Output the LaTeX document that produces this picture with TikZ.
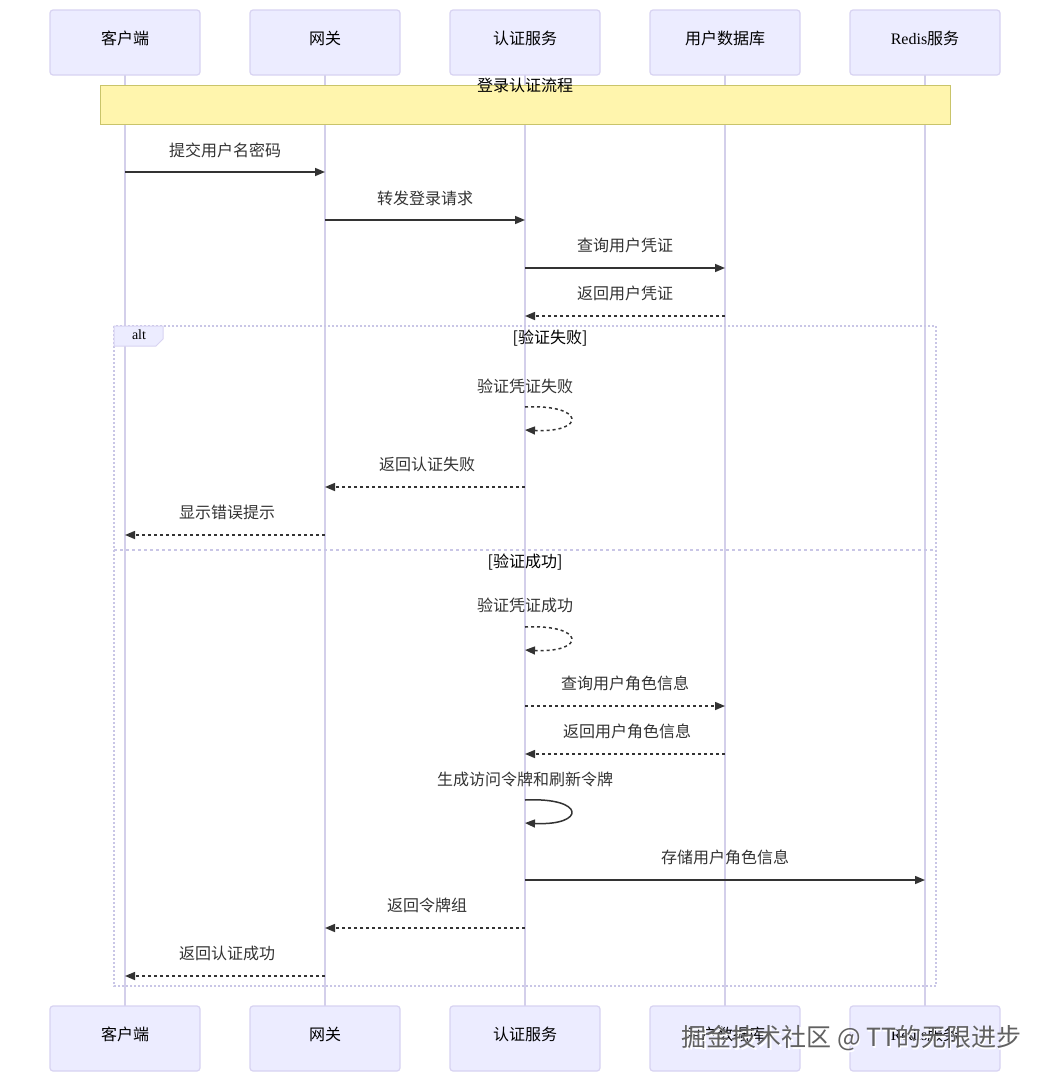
\documentclass[tikz,border=0pt]{standalone}
\usepackage{fontspec}
\setmainfont{Liberation Serif}
\newfontfamily\cjk{Noto Sans CJK SC}
\usetikzlibrary{arrows.meta}
\definecolor{actfill}{HTML}{ECECFF}
\definecolor{actdraw}{HTML}{D8D3F2}
\definecolor{lifec}{HTML}{D3CFEA}
\definecolor{notefill}{HTML}{FFF5AD}
\definecolor{notedraw}{HTML}{C9C46A}
\definecolor{boxdraw}{HTML}{C9C6E6}
\definecolor{msgc}{HTML}{333333}
\tikzset{
  actor/.style={draw=actdraw, fill=actfill, line width=1.2pt, rounded corners=3pt,
    minimum width=150pt, minimum height=65pt, inner sep=0pt,
    text height=14pt, text depth=11pt,
    font=\fontsize{16}{19}\selectfont\cjk, text=black},
  life/.style={draw=lifec, line width=1.5pt},
  msg/.style={draw=msgc, line width=1.5pt, -{Triangle[length=10pt,width=8pt]}},
  dsh/.style={dash pattern=on 3pt off 3pt},
  lbl/.style={font=\fontsize{16}{19}\selectfont\cjk, text=msgc, inner sep=0pt},
  glbl/.style={font=\fontsize{16}{19}\selectfont\cjk, text=black, inner sep=0pt},
}
\begin{document}
\begin{tikzpicture}[x=1pt,y=-1pt]
\fill[white] (0,0) rectangle (1050,1082);
\useasboundingbox (0,0) rectangle (1050,1082);
% lifelines first
\foreach \x in {125,325,525,725,925} {\draw[life] (\x,75) -- (\x,1006);}
% participants
\node[actor] (a1) at (125,42.5) {客户端};
\node[actor] (a2) at (325,42.5) {网关};
\node[actor] (a3) at (525,42.5) {认证服务};
\node[actor] (a4) at (725,42.5) {用户数据库};
\node[actor] (a5) at (925,42.5) {{\rmfamily Redis}服务};
\node[actor] (b1) at (125,1038.5) {客户端};
\node[actor] (b2) at (325,1038.5) {网关};
\node[actor] (b3) at (525,1038.5) {认证服务};
\node[actor] (b4) at (725,1038.5) {用户数据库};
\node[actor] (b5) at (925,1038.5) {{\rmfamily Redis}服务};
% note
\node[draw=notedraw, fill=notefill, line width=1pt, minimum width=850pt, minimum height=39pt, inner sep=0pt] (note) at (525,104.5) {};
\node[glbl] (notet) at (525,85) {登录认证流程};
% messages
\node[lbl] (l1) at (225,150) {提交用户名密码};
\draw[msg] (a1 |- 0,172) -- (a2 |- 0,172);
\node[lbl] (l2) at (425,198) {转发登录请求};
\draw[msg] (a2 |- 0,220) -- (a3 |- 0,220);
\node[lbl] (l3) at (625,245.5) {查询用户凭证};
\draw[msg] (a3 |- 0,268) -- (a4 |- 0,268);
\node[lbl] (l4) at (625,293.5) {返回用户凭证};
\draw[msg,dsh] (a4 |- 0,316) -- (a3 |- 0,316);
% alt box
\draw[boxdraw, line width=1.2pt, dash pattern=on 2pt off 2pt] (114,326) rectangle (936,986);
\draw[boxdraw, line width=1.2pt, dash pattern=on 3pt off 3pt] (114,550) -- (936,550);
\filldraw[fill=actfill, draw=actdraw, line width=1pt] (114,326) -- (163,326) -- (163,339) -- (156,346) -- (114,346) -- cycle;
\node[font=\fontsize{14}{16}\selectfont, inner sep=0pt] (alt) at (139,335) {alt};
\node[glbl] (g1) at (550,338) {[验证失败]};
\node[lbl] (l5) at (525,386.5) {验证凭证失败};
\draw[msg,dsh] (a3 |- 0,407) .. controls (586,404) and (586,433) .. (a3 |- 0,430);
\node[lbl] (l6) at (427,464.5) {返回认证失败};
\draw[msg,dsh] (a3 |- 0,487) -- (a2 |- 0,487);
\node[lbl] (l7) at (227,512.5) {显示错误提示};
\draw[msg,dsh] (a2 |- 0,535) -- (a1 |- 0,535);
\node[glbl] (g2) at (525,562) {[验证成功]};
\node[lbl] (l8) at (525,605.5) {验证凭证成功};
\draw[msg,dsh] (a3 |- 0,627) .. controls (586,624) and (586,653) .. (a3 |- 0,650);
\node[lbl] (l9) at (625,683.5) {查询用户角色信息};
\draw[msg,dsh] (a3 |- 0,706) -- (a4 |- 0,706);
\node[lbl] (l10) at (627,731.5) {返回用户角色信息};
\draw[msg,dsh] (a4 |- 0,754) -- (a3 |- 0,754);
\node[lbl] (l11) at (525,779.5) {生成访问令牌和刷新令牌};
\draw[msg] (a3 |- 0,800) .. controls (586,797) and (586,826) .. (a3 |- 0,823);
\node[lbl] (l12) at (725,857.5) {存储用户角色信息};
\draw[msg] (a3 |- 0,880) -- (a5 |- 0,880);
\node[lbl] (l13) at (427,905.5) {返回令牌组};
\draw[msg,dsh] (a3 |- 0,928) -- (a2 |- 0,928);
\node[lbl] (l14) at (227,953.5) {返回认证成功};
\draw[msg,dsh] (a2 |- 0,976) -- (a1 |- 0,976);
% watermark
\node[font=\fontsize{25}{29}\selectfont\cjk, text=white, inner sep=0pt] (wms) at (853,1040) {掘金技术社区 @ TT的无限进步};
\node[font=\fontsize{25}{29}\selectfont\cjk, text=black!62, inner sep=0pt] (wm) at (851.5,1038.5) {掘金技术社区 @ TT的无限进步};
\end{tikzpicture}
\end{document}
